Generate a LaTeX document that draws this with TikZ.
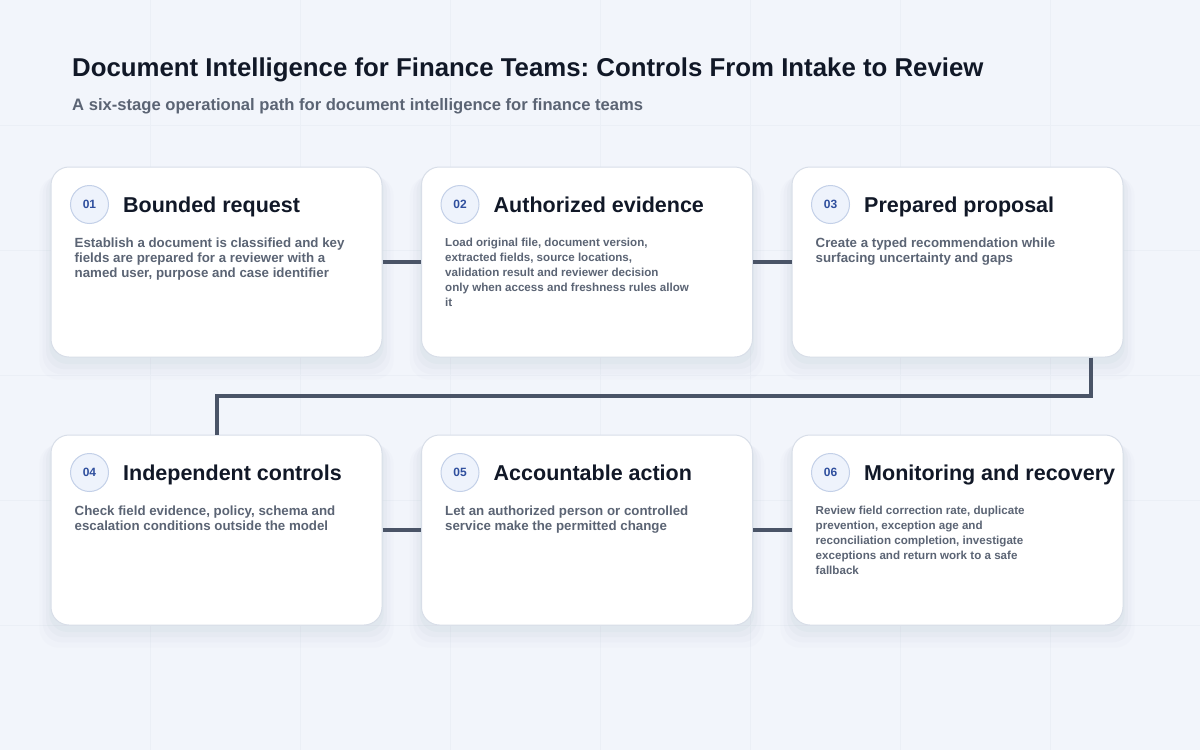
\documentclass[tikz,border=0pt]{standalone}
\usepackage{fontspec}
\setmainfont{Liberation Sans}
\usetikzlibrary{positioning,shadows}
\frenchspacing

\definecolor{ink}{HTML}{111827}
\definecolor{muted}{HTML}{5B6474}
\definecolor{bgcol}{HTML}{F2F5FB}
\definecolor{gridcol}{HTML}{EBEFF6}
\definecolor{cardline}{HTML}{D8DEE8}
\definecolor{shadowcol}{HTML}{8C98B0}
\definecolor{badgefill}{HTML}{EEF3FC}
\definecolor{badgeline}{HTML}{C3D0E8}
\definecolor{badgetext}{HTML}{2F4F9E}
\definecolor{linkcol}{HTML}{4A5467}

\tikzset{
  softshadow/.style={
    general shadow={fill=shadowcol, opacity=.05, shadow yshift=-6pt, shadow scale=1.01},
    general shadow={fill=shadowcol, opacity=.045, shadow yshift=-9pt, shadow scale=1.03},
    general shadow={fill=shadowcol, opacity=.035, shadow yshift=-12pt, shadow scale=1.05},
    general shadow={fill=shadowcol, opacity=.025, shadow yshift=-15pt, shadow scale=1.07}},
  card/.style={rectangle, rounded corners=18pt, draw=cardline, line width=1pt, fill=white,
    minimum width=331pt, minimum height=190pt, inner sep=0pt, softshadow},
  badge/.style={circle, minimum size=38pt, inner sep=0pt, fill=badgefill, draw=badgeline,
    line width=1pt, text=badgetext, font=\bfseries\fontsize{12}{14}\selectfont},
  head/.style={anchor=base west, inner sep=0pt, text=ink, font=\bfseries\fontsize{21.5}{26}\selectfont},
  body/.style={anchor=north west, inner sep=0pt, align=left, text=muted,
    font=\bfseries\fontsize{13.3}{15}\selectfont},
  smallbody/.style={body, font=\bfseries\fontsize{11.6}{15}\selectfont},
  link/.style={draw=linkcol, line width=4pt}
}

\begin{document}
\begin{tikzpicture}[x=1pt, y=-1pt, node distance=38.5pt]

            \useasboundingbox (0,0) rectangle (1200,750);
            \fill[bgcol] (0,0) rectangle (1200,750);
            \foreach \gx in {150,300,...,1050}
              \draw[gridcol, line width=0.8pt] (\gx,0) -- (\gx,750);
            \foreach \gy in {125,250,...,625}
              \draw[gridcol, line width=0.8pt] (0,\gy) -- (1200,\gy);

            \node[anchor=base west, inner sep=0pt, text=ink, font=\bfseries\fontsize{25.8}{31}\selectfont]
              (title) at (72,76.5) {Document Intelligence for Finance Teams: Controls From Intake to Review};
            \node[anchor=base west, inner sep=0pt, text=muted, font=\bfseries\fontsize{16.6}{20}\selectfont]
              (subtitle) at (72,110) {A six-stage operational path for document intelligence for finance teams};

            \node[card] (c1) at (216.5,262) {};
            \node[card] (c2) [right=of c1] {};
            \node[card] (c3) [right=of c2] {};
            \node[card] (c4) [below=77pt of c1] {};
            \node[card] (c5) [right=of c4] {};
            \node[card] (c6) [right=of c5] {};

            \node[badge] (n1) at ([xshift=39pt,yshift=-38pt]c1.north west) {01};
            \node[badge] (n2) at ([xshift=39pt,yshift=-38pt]c2.north west) {02};
            \node[badge] (n3) at ([xshift=39pt,yshift=-38pt]c3.north west) {03};
            \node[badge] (n4) at ([xshift=39pt,yshift=-38pt]c4.north west) {04};
            \node[badge] (n5) at ([xshift=39pt,yshift=-38pt]c5.north west) {05};
            \node[badge] (n6) at ([xshift=39pt,yshift=-38pt]c6.north west) {06};

            \node[head] (t1) at ([xshift=14pt,yshift=-7.7pt]n1.east) {Bounded request};
            \node[head] (t2) at ([xshift=14pt,yshift=-7.7pt]n2.east) {Authorized evidence};
            \node[head] (t3) at ([xshift=14pt,yshift=-7.7pt]n3.east) {Prepared proposal};
            \node[head] (t4) at ([xshift=14pt,yshift=-7.7pt]n4.east) {Independent controls};
            \node[head] (t5) at ([xshift=14pt,yshift=-7.7pt]n5.east) {Accountable action};
            \node[head] (t6) at ([xshift=14pt,yshift=-7.7pt]n6.east) {Monitoring and recovery};

            \node[body] (b1) at ([xshift=24pt,yshift=-71pt]c1.north west)
              {Establish a document is classified and key\\fields are prepared for a reviewer with a\\named user, purpose and case identifier};
            \node[smallbody] (b2) at ([xshift=24pt,yshift=-71pt]c2.north west)
              {Load original file, document version,\\extracted fields, source locations,\\validation result and reviewer decision\\only when access and freshness rules allow\\it};
            \node[body] (b3) at ([xshift=24pt,yshift=-71pt]c3.north west)
              {Create a typed recommendation while\\surfacing uncertainty and gaps};
            \node[body] (b4) at ([xshift=24pt,yshift=-71pt]c4.north west)
              {Check field evidence, policy, schema and\\escalation conditions outside the model};
            \node[body] (b5) at ([xshift=24pt,yshift=-71pt]c5.north west)
              {Let an authorized person or controlled\\service make the permitted change};
            \node[smallbody] (b6) at ([xshift=24pt,yshift=-71pt]c6.north west)
              {Review field correction rate, duplicate\\prevention, exception age and\\reconciliation completion, investigate\\exceptions and return work to a safe\\fallback};

            \path[link]
                (c1) edge (c2)
                (c2) edge (c3)
                (c4) edge (c5)
                (c5) edge (c6);
            \draw[link] ([xshift=-33pt]c3.south east) -- ++(0,38) -| (c4.north);
        \end{tikzpicture}
\end{document}
